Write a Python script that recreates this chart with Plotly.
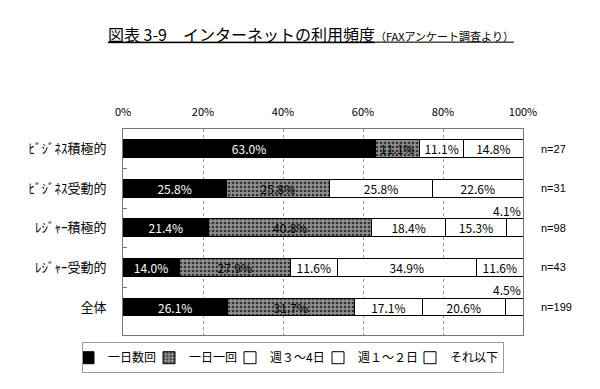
import plotly.graph_objects as go

categories = ["ﾋﾞｼﾞﾈｽ積極的", "ﾋﾞｼﾞﾈｽ受動的", "ﾚｼﾞｬｰ積極的", "ﾚｼﾞｬｰ受動的", "全体"]
n_labels = ["n=27", "n=31", "n=98", "n=43", "n=199"]
series_names = ["一日数回", "一日一回", "週３～4日", "週１～２日", "それ以下"]

daily_many = [63.0, 25.8, 21.4, 14.0, 26.1]
daily_once = [11.1, 25.8, 40.8, 27.9, 31.7]
week_3_4 = [11.1, 25.8, 18.4, 11.6, 17.1]
week_1_2 = [14.8, 22.6, 15.3, 34.9, 20.6]
less = [0.0, 0.0, 4.1, 11.6, 4.5]

x_ticks = [0, 20, 40, 60, 80, 100]

series = [daily_many, daily_once, week_3_4, week_1_2, less]
fills = ["#000000", "#8c8c8c", "#ffffff", "#ffffff", "#ffffff"]
text_colors = ["#ffffff", "#000000", "#000000", "#000000", "#000000"]
legend_widths = [51, 51, 58, 62, 48]

JP = "Noto Sans CJK JP"

fig = go.Figure()
for i, (name, vals) in enumerate(zip(series_names, series)):
    marker = dict(color=fills[i], line=dict(color="#000000", width=1))
    if i == 1:
        marker["pattern"] = dict(shape=".", fgcolor="#333333", bgcolor="#8e8e8e",
                                 size=4, solidity=0.35, fillmode="replace")
    fig.add_trace(go.Bar(
        name=name,
        y=categories,
        x=vals,
        orientation="h",
        marker=marker,
        text=[f"{v:.1f}%" if v >= 5 else "" for v in vals],
        textposition="inside",
        insidetextanchor="middle",
        textangle=0,
        textfont=dict(family=JP, size=12, color=text_colors[i]),
        width=0.45,
        hoverinfo="skip",
        legendwidth=legend_widths[i],
    ))

annotations = []
for cat, v in zip(categories, less):
    if 0 < v < 5:
        annotations.append(dict(x=100, y=cat, xref="x", yref="y", text=f"{v:.1f}%",
                                showarrow=False, xanchor="right", yanchor="bottom",
                                yshift=7, font=dict(family=JP, size=12, color="#000")))
for cat, n in zip(categories, n_labels):
    annotations.append(dict(x=100, y=cat, xref="x", yref="y", text=n,
                            showarrow=False, xanchor="left", xshift=16,
                            font=dict(family="Liberation Sans", size=11, color="#000")))

fig.update_layout(
    template="none",
    width=600, height=389,
    barmode="stack",
    uniformtext=dict(mode="show", minsize=12),
    paper_bgcolor="#ffffff", plot_bgcolor="#ffffff",
    margin=dict(l=115, r=85, t=121, b=62, autoexpand=False),
    title=dict(
        text="<u>図表 3-9　インターネットの利用頻度<span style=\"font-size:11px\">（FAXアンケート調査より）</span></u>",
        x=100 / 600, xref="container", xanchor="left",
        y=1 - 27 / 389, yref="container", yanchor="middle",
        font=dict(family=JP, size=16, color="#000"),
    ),
    xaxis=dict(
        range=[0, 100], tickvals=x_ticks, ticktext=[f"{t}%" for t in x_ticks],
        side="top", showgrid=True, gridcolor="#9a9a9a", griddash="dot", gridwidth=1,
        showline=True, linecolor="#777", linewidth=1, mirror=True,
        zeroline=False, ticks="", ticklabelstandoff=8, automargin=False,
        tickfont=dict(family=JP, size=11, color="#000"),
    ),
    yaxis=dict(
        autorange="reversed", showline=True, linecolor="#777", linewidth=1, mirror=True,
        ticks="inside", tickson="boundaries", ticklen=4, tickcolor="#777",
        showgrid=False, automargin=False,
        tickfont=dict(family=JP, size=13, color="#000"),
        ticklabelstandoff=13,
    ),
    legend=dict(
        orientation="h", x=(74 - 115) / 400, xanchor="left", y=-0.035, yanchor="top",
        bordercolor="#999", borderwidth=1, traceorder="normal",
        font=dict(family=JP, size=12, color="#000"),
        itemwidth=30, indentation=-15,
    ),
    annotations=annotations,
    showlegend=True,
)

fig.write_html("out.html")
